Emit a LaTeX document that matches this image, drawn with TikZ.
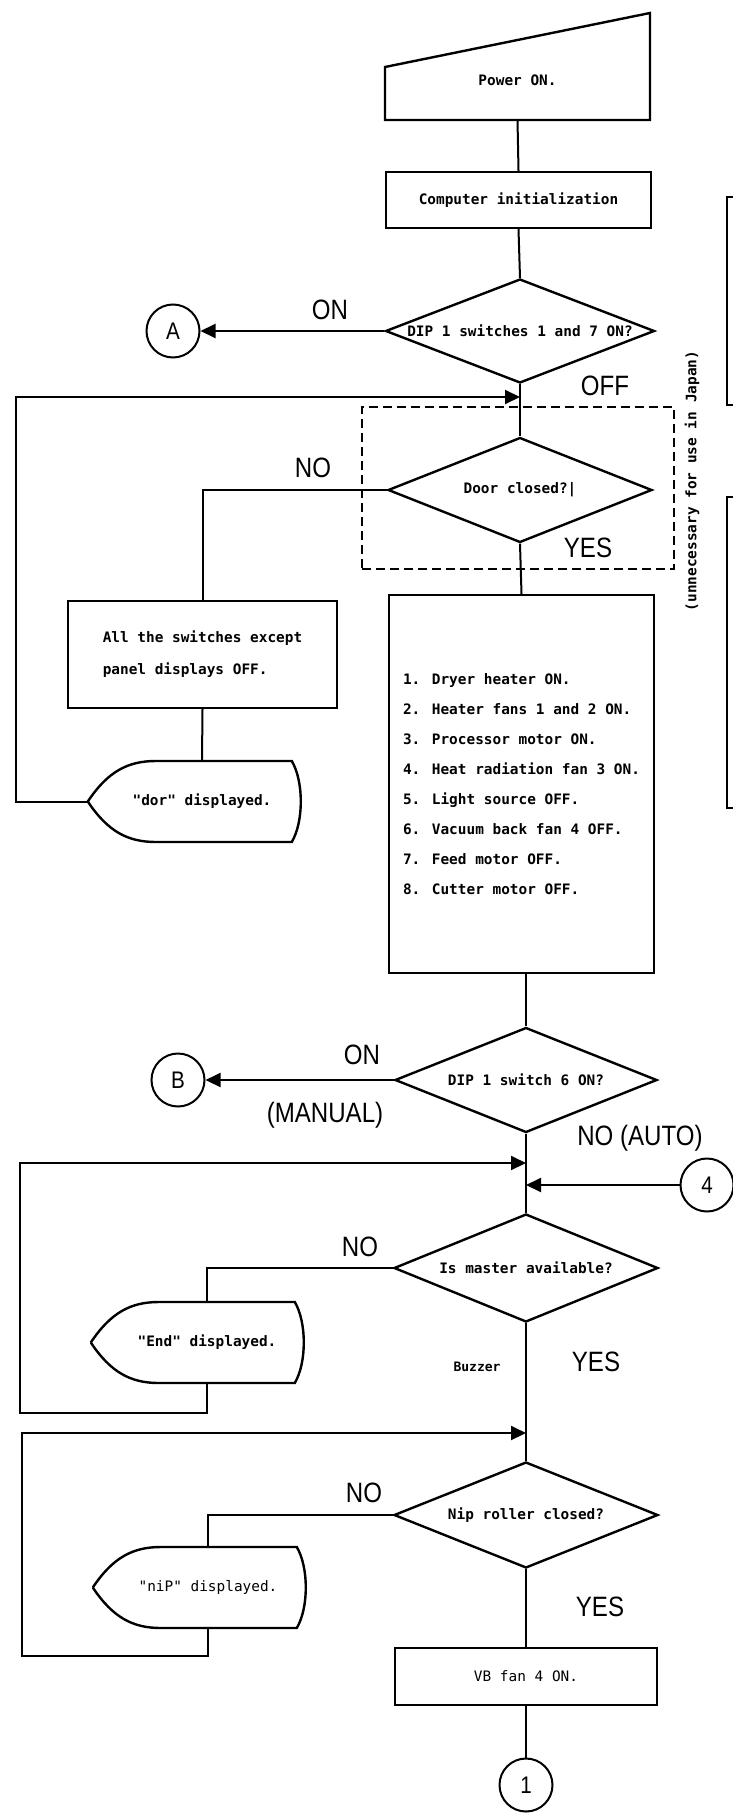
\documentclass[tikz,border=0pt]{standalone}
\usepackage{fontspec}
\newfontfamily\chartfont{DejaVu Sans Mono}
\newfontfamily\tagfont{Liberation Sans}[FakeStretch=0.86]
\usetikzlibrary{
    arrows.meta,
    calc,
    shapes.geometric % diamond
}

% outline of a display symbol, hung on the left tip of a node
\newcommand{\dispframe}[1]{%
  \draw[line width=2.4pt] (#1.west)
      .. controls ($(#1.west)+(20,-30)$) and ($(#1.west)+(40,-40.5)$) .. ($(#1.west)+(68,-40.5)$)
      -- ($(#1.west)+(204,-40.5)$)
      .. controls ($(#1.west)+(216,-20)$) and ($(#1.west)+(216,20)$) .. ($(#1.west)+(204,40.5)$)
      -- ($(#1.west)+(68,40.5)$)
      .. controls ($(#1.west)+(40,40.5)$) and ($(#1.west)+(20,30)$) .. (#1.west);}

\begin{document}
\begin{tikzpicture}[x=1pt,y=-1pt,
    every node/.style={inner sep=0pt},
    txt/.style={font=\chartfont\bfseries\fontsize{14.4}{17}\selectfont},
    thin txt/.style={font=\chartfont\fontsize{14.4}{17}\selectfont},
    tag/.style={font=\tagfont\fontsize{28}{28}\selectfont},
    proc/.style={draw,line width=2.4pt,minimum width=265pt,txt},
    decision/.style={diamond,draw,line width=2.4pt,minimum width=264pt,minimum height=105pt,txt},
    disp/.style={minimum height=81pt,txt},
    conn/.style={draw,circle,line width=2pt,minimum size=53pt,font=\tagfont\fontsize{24}{24}\selectfont},
    line/.style={line width=2pt},
    arr/.style={line width=2pt,-{Triangle[length=15pt,width=14pt]}}]

    \path[use as bounding box,fill=white] (0,0) rectangle (733,1814);
    \clip (0,0) rectangle (733,1814);

    % start
    \node[proc,draw=none,outer sep=0pt,minimum height=80pt] (pwr) at (517.5,80) {Power ON.};
    \draw[line width=2.4pt] (pwr.south west) -- (pwr.south east) -- ++(0,-107)
        -- ($(pwr.south west)+(0,-53)$) -- cycle;
    \node[proc,minimum height=56pt] (init) at (518.5,200) {Computer initialization};
    \node[decision,minimum width=269pt,minimum height=104pt] (dip1) at (520,331)
        {\makebox[0pt]{DIP 1 switches 1 and 7 ON?}};
    \node[conn] (circA) at (173,331) {A};
    \node[tag] (onA) at (330,310) {ON};
    \node[tag] (offA) at (605,386) {OFF};
    \coordinate (j1) at (520,397);

    % door check
    \node[draw,line width=1.8pt,dash pattern=on 9pt off 5pt,
          minimum width=312pt,minimum height=162pt] (zone) at (518,488) {};
    \node[decision] (door) at (520,490) {\makebox[0pt]{Door closed?|}};
    \node[tag] (noA) at (313,468) {NO};
    \node[tag] (yesA) at (588,548) {YES};
    \node[proc,minimum width=269pt,minimum height=107pt,align=left,
          font=\chartfont\bfseries\fontsize{14.4}{32}\selectfont] (sw) at (202.5,654.5)
        {All the switches except\\panel displays OFF.};
    \node[disp,minimum width=228pt] (dor) at (202,801.5) {"dor" displayed.};
    \dispframe{dor}
    \node[proc,minimum height=378pt,align=left,
          font=\chartfont\bfseries\fontsize{14.4}{30}\selectfont] (acts) at (521.5,784)
        {1. Dryer heater ON.\\2. Heater fans 1 and 2 ON.\\3. Processor motor ON.\\
         4. Heat radiation fan 3 ON.\\5. Light source OFF.\\6. Vacuum back fan 4 OFF.\\
         7. Feed motor OFF.\\8. Cutter motor OFF.};

    % manual / auto
    \node[decision,minimum width=262pt] (dip6) at (526,1080) {\makebox[0pt]{DIP 1 switch 6 ON?}};
    \node[conn] (circB) at (178,1080) {B};
    \node[tag] (onB) at (362,1055) {ON};
    \node[tag] (manual) at (325,1115) {(MANUAL)};
    \node[tag] (auto) at (640,1138) {NO (AUTO)};
    \coordinate (j2) at (526,1163);
    \coordinate (j4) at (526,1185);
    \node[conn] (circ4) at (707,1185) {4};

    % master
    \node[decision,minimum height=108pt] (mast) at (526,1268) {\makebox[0pt]{Is master available?}};
    \node[tag] (noB) at (360,1247) {NO};
    \node[disp,minimum width=232pt] (endd) at (207,1342.5) {"End" displayed.};
    \dispframe{endd}
    \node[txt,font=\chartfont\bfseries\fontsize{13}{15}\selectfont] (buzz) at (477,1367) {Buzzer};
    \node[tag] (yesB) at (596,1362) {YES};
    \coordinate (j3) at (526,1433);

    % nip roller
    \node[decision,minimum height=106pt] (nipq) at (526,1515) {\makebox[0pt]{Nip roller closed?}};
    \node[tag] (noC) at (364,1493) {NO};
    \node[disp,minimum width=230pt,thin txt] (nipd) at (208,1587.5) {"niP" displayed.};
    \dispframe{nipd}
    \node[tag] (yesC) at (600,1607) {YES};
    \node[proc,minimum width=262pt,minimum height=57pt,thin txt] (vb) at (526,1676.5) {VB fan 4 ON.};
    \node[conn] (circ1) at (526,1785) {1};

    % boxes running off the right edge
    \node[draw,line width=2.2pt,minimum width=100pt,minimum height=208pt] (sideA) at (777,301) {};
    \node[draw,line width=2.2pt,minimum width=100pt,minimum height=311pt] (sideB) at (777,652.5) {};
    \node[txt,rotate=90] (note) at (692,481) {(unnecessary for use in Japan)};

    % connectors
    \draw[line] (pwr.south) -- (init.north);
    \draw[line] (init.south) -- (dip1.north);
    \draw[arr] (dip1.west) -- (circA.east);
    \draw[line] (dip1.south) -- (door.north);
    \draw[arr] (dor.west) -- ++(-72,0) |- (j1);
    \draw[line] (door.west) -| (sw.north);
    \draw[line] (sw.south) -- (dor.north);
    \draw[line] (door.south) -- (acts.north);
    \draw[line] (acts.south -| dip6.north) -- (dip6.north);
    \draw[arr] (dip6.west) -- (circB.east);
    \draw[arr] (endd.south) -- ++(0,30) -- ++(-187,0) |- (j2);
    \draw[arr] (circ4.west) -- (j4);
    \draw[line] (dip6.south) -- (mast.north);
    \draw[line] (mast.west) -| (endd.north);
    \draw[line] (mast.south) -- (nipq.north);
    \draw[arr] (nipd.south) -- ++(0,28) -- ++(-186,0) |- (j3);
    \draw[line] (nipq.west) -| (nipd.north);
    \draw[line] (nipq.south) -- (vb.north);
    \draw[line] (vb.south) -- (circ1.north);
\end{tikzpicture}
\end{document}
